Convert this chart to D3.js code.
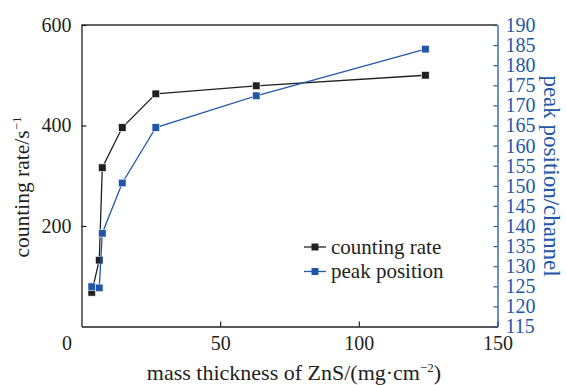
<!DOCTYPE html>
<html>
<head>
<meta charset="utf-8">
<script src="https://cdn.jsdelivr.net/npm/d3@7"></script>
<style>
  body { margin: 0; background: #fff; }
</style>
</head>
<body>
<div id="chart"></div>
<script>
// data
const thickness = [3.7, 6.4, 7.5, 14.7, 26.8, 63, 124];
const countingRate = [68, 132, 316, 396, 463, 479, 500];
const peakPosition = [124.9, 124.6, 138.2, 150.7, 164.5, 172.4, 184];
const xTicks = [50, 100, 150];
const leftTicks = [200, 400, 600];
const rightTicks = d3.range(115, 191, 5);

const black = "#231f20", blue = "#2257a8";
const font = "'Liberation Serif', 'Times New Roman', serif";
const width = 566, height = 385;
const plot = {left: 81.5, right: 497.5, top: 25, bottom: 326.5};

const svg = d3.select("#chart").append("svg")
    .attr("width", width)
    .attr("height", height)
    .style("font-family", font);

const x = d3.scaleLinear().domain([0, 150]).range([plot.left, plot.right]);
const yL = d3.scaleLinear().domain([0, 600]).range([plot.bottom, plot.top]);
const yR = d3.scaleLinear().domain([115, 190]).range([plot.bottom, plot.top]);

// top frame line
svg.append("line")
    .attr("x1", plot.left).attr("x2", plot.right)
    .attr("y1", plot.top).attr("y2", plot.top)
    .attr("stroke", "#333").attr("stroke-width", 1.3);

// Bottom axis
const gx = svg.append("g")
    .attr("transform", "translate(0," + plot.bottom + ")")
    .call(d3.axisBottom(x).tickValues(xTicks).tickSize(-5).tickSizeOuter(0).tickPadding(9));

// Left axis
const gl = svg.append("g")
    .attr("transform", "translate(" + plot.left + ",0)")
    .call(d3.axisLeft(yL).tickValues(leftTicks).tickSize(-5).tickSizeOuter(0).tickPadding(10));

// Right axis
const gr = svg.append("g")
    .attr("transform", "translate(" + plot.right + ",0)")
    .call(d3.axisRight(yR).tickValues(rightTicks).tickSize(-4).tickSizeOuter(0).tickPadding(8));

[[gx, black], [gl, black], [gr, blue]].forEach(([g, c]) => {
  g.attr("font-family", null).attr("font-size", null);
  g.select(".domain").attr("stroke", c).attr("stroke-width", 1.3);
  g.selectAll(".tick line").attr("stroke", c).attr("stroke-width", 1.2);
  g.selectAll("text").attr("fill", c)
      .style("font-family", font)
      .style("font-size", "20px");
});

// shared origin label
svg.append("text")
    .attr("x", 67).attr("y", 350)
    .attr("text-anchor", "middle")
    .attr("fill", black)
    .style("font-family", font)
    .style("font-size", "20px")
    .text("0");

// lines
const series = [
  {name: "counting rate", values: countingRate, y: yL, color: black},
  {name: "peak position", values: peakPosition, y: yR, color: blue}
];

series.forEach(s => {
  const pts = thickness.map((t, i) => [t, s.values[i]]);
  svg.append("path")
      .datum(pts)
      .attr("fill", "none")
      .attr("stroke", s.color)
      .attr("stroke-width", 1.3)
      .attr("d", d3.line().x(d => x(d[0])).y(d => s.y(d[1])));
  svg.append("g")
    .selectAll("rect")
    .data(pts)
    .enter()
    .append("rect")
      .attr("x", d => x(d[0]) - 3.8)
      .attr("y", d => s.y(d[1]) - 3.8)
      .attr("width", 7.6)
      .attr("height", 7.6)
      .attr("fill", s.color)
      .attr("stroke", "#fff")
      .attr("stroke-width", 0.6);
});

// legend
const legend = svg.append("g").attr("transform", "translate(304,247)");
series.forEach((s, i) => {
  const g = legend.append("g").attr("transform", "translate(0," + (i * 24.5) + ")");
  g.append("line").attr("x1", 0).attr("x2", 22).attr("stroke", s.color).attr("stroke-width", 1.3);
  g.append("rect").attr("x", 7.5).attr("y", -3.5).attr("width", 7).attr("height", 7).attr("fill", s.color);
  g.append("text")
      .attr("x", 27).attr("y", 0).attr("dy", "0.32em")
      .attr("fill", "#231f20")
      .style("font-family", font)
      .style("font-size", "21px")
      .text(s.name);
});

// axis titles
const lt = svg.append("text")
    .attr("text-anchor", "middle")
    .attr("fill", black)
    .style("font-family", font)
    .style("font-size", "21.5px")
    .attr("transform", "translate(29,187) rotate(-90)");
lt.append("tspan").text("counting rate/s");
lt.append("tspan").attr("dy", -8).style("font-size", "13px").text("−1");

svg.append("text")
    .attr("text-anchor", "middle")
    .attr("fill", blue)
    .style("font-family", font)
    .style("font-size", "23px")
    .attr("transform", "translate(544,176) rotate(90)")
    .text("peak position/channel");

const xt = svg.append("text")
    .attr("x", 294).attr("y", 380)
    .attr("text-anchor", "middle")
    .attr("fill", black)
    .style("font-family", font)
    .style("font-size", "22px");
xt.append("tspan").text("mass thickness of ZnS/(mg·cm");
xt.append("tspan").attr("dy", -8).style("font-size", "13px").text("−2");
xt.append("tspan").attr("dy", 8).text(")");
</script>
</body>
</html>
